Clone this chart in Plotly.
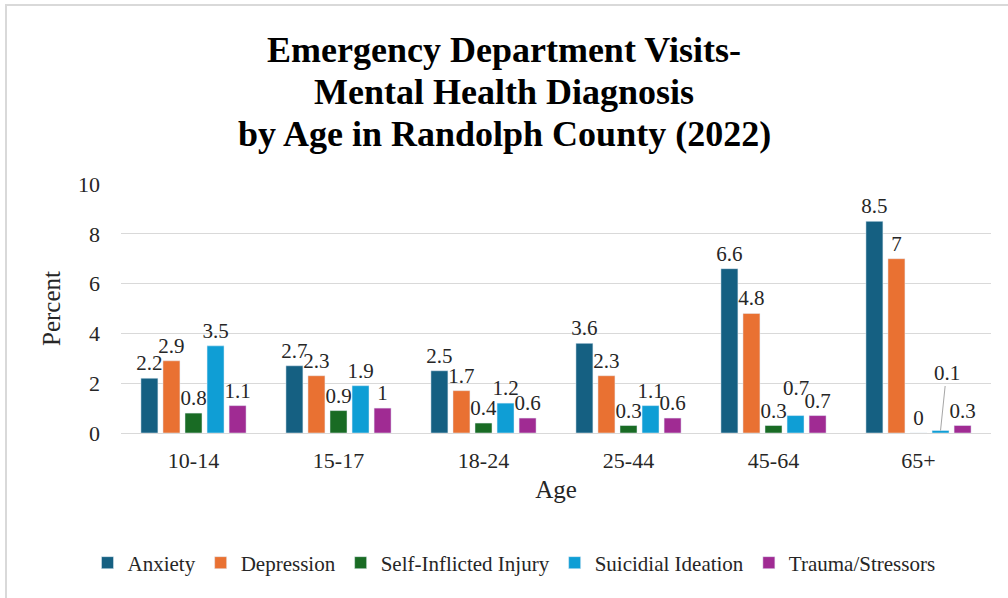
import plotly.graph_objects as go

categories = ["10-14", "15-17", "18-24", "25-44", "45-64", "65+"]
series_names = ["Anxiety", "Depression", "Self-Inflicted Injury", "Suicidial Ideation", "Trauma/Stressors"]
anxiety = [2.2, 2.7, 2.5, 3.6, 6.6, 8.5]
depression = [2.9, 2.3, 1.7, 2.3, 4.8, 7]
self_inflicted = [0.8, 0.9, 0.4, 0.3, 0.3, 0]
suicidal = [3.5, 1.9, 1.2, 1.1, 0.7, 0.1]
trauma = [1.1, 1, 0.6, 0.6, 0.7, 0.3]
colors = ["#156082", "#E97132", "#196B24", "#0F9ED5", "#A02B93"]
y_ticks = [0, 2, 4, 6, 8, 10]
title_lines = ["Emergency Department Visits-", "Mental Health Diagnosis", "by Age in Randolph County (2022)"]

series_values = [anxiety, depression, self_inflicted, suicidal, trauma]
FONT = "Liberation Serif, Times New Roman, serif"
TXT = "#262626"
BARGAP = 0.24
BARGROUPGAP = 0.23

L, R, T, B = 121, 17, 184, 165
W, H = 1008, 598
pw, ph = W - L - R, H - T - B

n = len(series_names)
slot = (1 - BARGAP) / n
idx_s = series_names.index("Suicidial Ideation")
sx = lambda cat_i: cat_i + (idx_s - (n - 1) / 2) * slot
i_4564 = categories.index("45-64")
i_65 = categories.index("65+")

fig = go.Figure()
for name, vals, col in zip(series_names, series_values, colors):
    texts = [f"{v:g}" for v in vals]
    if name == "Suicidial Ideation":
        # these two labels are placed separately below
        texts[i_4564] = ""
        texts[i_65] = ""
    fig.add_trace(go.Bar(
        name=name, x=categories, y=vals, marker_color=col,
        text=texts, textposition="outside", cliponaxis=False,
        constraintext="none",
        textfont=dict(family=FONT, size=21, color=TXT),
    ))

# raised label for Suicidial Ideation 45-64
fig.add_annotation(
    x=sx(i_4564), y=suicidal[i_4564], xref="x", yref="y",
    text=f"{suicidal[i_4564]:g}", showarrow=False,
    yanchor="bottom", yshift=14,
    font=dict(family=FONT, size=21, color=TXT),
)
# leader-line label for Suicidial Ideation 65+
fig.add_annotation(
    x=sx(i_65), y=suicidal[i_65], xref="x", yref="y",
    text=f"{suicidal[i_65]:g}",
    showarrow=True, arrowhead=0, arrowwidth=1, arrowcolor="#a6a6a6",
    ax=6, ay=-58, standoff=0,
    font=dict(family=FONT, size=21, color=TXT),
)

# title, three centred bold lines
for i, line in enumerate(title_lines):
    cy = 50 + 42 * i
    fig.add_annotation(
        x=(W / 2 - L) / pw, xref="paper", y=(H - B - cy) / ph, yref="paper",
        xanchor="center", yanchor="middle", showarrow=False,
        text=f"<b>{line}</b>",
        font=dict(family=FONT, size=36, color="black"),
    )

# light border around chart area
fig.add_shape(type="rect", xref="paper", yref="paper",
              x0=(6 - L) / pw, x1=(1012 - L) / pw,
              y0=(H - B - 602) / ph, y1=(H - B - 5) / ph,
              line=dict(color="#d9d9d9", width=2), fillcolor="rgba(0,0,0,0)", layer="below")

fig.update_layout(
    width=W, height=H,
    margin=dict(l=L, r=R, t=T, b=B, autoexpand=False),
    paper_bgcolor="white", plot_bgcolor="white",
    barmode="group", bargap=BARGAP, bargroupgap=BARGROUPGAP,
    font=dict(family=FONT, size=22, color=TXT),
    xaxis=dict(
        title=dict(text="Age", font=dict(family=FONT, size=25, color=TXT), standoff=8),
        tickfont=dict(family=FONT, size=22, color=TXT), showline=False, ticks="",
        ticklabelstandoff=12, showgrid=False, automargin=False,
    ),
    yaxis=dict(
        title=dict(text="Percent", font=dict(family=FONT, size=25, color=TXT), standoff=10),
        range=[0, 10], tickvals=y_ticks, tickfont=dict(family=FONT, size=22, color=TXT),
        showgrid=True, gridcolor="#d9d9d9", gridwidth=1,
        zeroline=True, zerolinecolor="#d9d9d9", zerolinewidth=1,
        showline=False, ticks="", ticklabelstandoff=20, automargin=False,
    ),
    legend=dict(
        orientation="h", x=(514 - L) / pw, xanchor="center",
        y=(H - B - 563) / ph, yanchor="middle",
        font=dict(family=FONT, size=21, color=TXT),
        itemwidth=30, traceorder="normal",
    ),
)

fig.write_html("out.html", config={"displayModeBar": False},
               post_script="document.body.style.margin='0';")
